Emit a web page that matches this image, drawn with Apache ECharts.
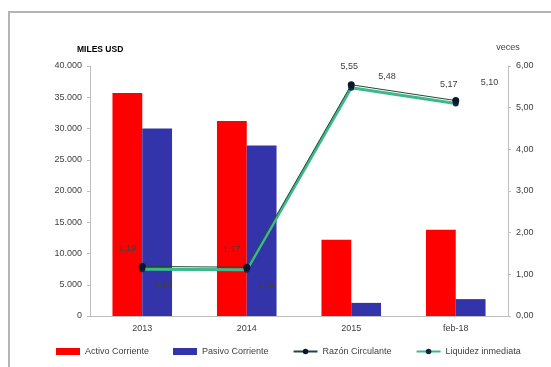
<!DOCTYPE html>
<html>
<head>
<meta charset="utf-8">
<script src="https://cdn.jsdelivr.net/npm/echarts@6/dist/echarts.min.js"></script>
<style>
html,body{margin:0;padding:0;background:#fff;}
#c{width:551px;height:367px;}
</style>
</head>
<body>
<div id="c"></div>
<script>
const categories = ['2013', '2014', '2015', 'feb-18'];
const activoCorriente = [35700, 31200, 12200, 13800];
const pasivoCorriente = [30000, 27300, 2100, 2700];
const razonCirculante = [1.19, 1.17, 5.55, 5.17];
const liquidezInmediata = [1.12, 1.11, 5.48, 5.10];
const leftTicks = { min: 0, max: 40000, interval: 5000 };
const rightTicks = { min: 0, max: 6, interval: 1 };

const razonOffsets = [[-15, -5], [-15, -5], [-2, -5], [-7, -3]];
const liquidezOffsets = [[4, 15], [4, 15], [19, -11], [17, -21]];

const fmtNum = v => v.toFixed(2).replace('.', ',');
const fmtThousands = v => v === 0 ? '0' : String(v).replace(/\B(?=(\d{3})+(?!\d))/g, '.');

const font = 'Liberation Sans, Arial, sans-serif';
const chart = echarts.init(document.getElementById('c'), null, { renderer: 'canvas' });
chart.setOption({
  animation: false,
  backgroundColor: '#fff',
  textStyle: { fontFamily: font },
  graphic: [{
    type: 'polyline',
    shape: { points: [[9, 367], [9, 12], [551, 12]] },
    style: { stroke: '#b4b4b4', lineWidth: 2, fill: null }
  }],
  legend: {
    bottom: 6,
    left: 51,
    itemWidth: 24,
    itemHeight: 7,
    itemGap: 24,
    textStyle: { fontSize: 9, color: '#404040', fontFamily: font },
    data: [
      { name: 'Activo Corriente', icon: 'rect' },
      { name: 'Pasivo Corriente', icon: 'rect' },
      { name: 'Razón Circulante' },
      { name: 'Liquidez inmediata' }
    ]
  },
  grid: { left: 90, right: 43, top: 66, bottom: 51 },
  xAxis: {
    type: 'category',
    data: categories,
    axisLine: { lineStyle: { color: '#bfbfbf' } },
    axisTick: { show: false },
    axisLabel: { fontSize: 9, color: '#404040', margin: 8 }
  },
  yAxis: [{
    type: 'value',
    min: leftTicks.min, max: leftTicks.max, interval: leftTicks.interval,
    name: 'MILES USD',
    nameLocation: 'end',
    nameGap: 12,
    nameTextStyle: { fontSize: 8.5, fontWeight: 'bold', color: '#000', align: 'left', padding: [0, 0, 0, -13] },
    axisLine: { show: true, lineStyle: { color: '#bfbfbf' } },
    axisTick: { show: true, length: 3, lineStyle: { color: '#bfbfbf' } },
    splitLine: { show: false },
    axisLabel: { fontSize: 9, color: '#404040', margin: 8, formatter: fmtThousands }
  }, {
    type: 'value',
    min: rightTicks.min, max: rightTicks.max, interval: rightTicks.interval,
    name: 'veces',
    nameLocation: 'end',
    nameGap: 14,
    nameTextStyle: { fontSize: 9, color: '#404040', align: 'center' },
    axisLine: { show: true, lineStyle: { color: '#bfbfbf' } },
    axisTick: { show: true, length: 3, lineStyle: { color: '#bfbfbf' } },
    splitLine: { show: false },
    axisLabel: { fontSize: 9, color: '#404040', margin: 8, formatter: v => fmtNum(v) }
  }],
  series: [{
    name: 'Activo Corriente',
    type: 'bar',
    data: activoCorriente,
    itemStyle: { color: '#ff0000' },
    barGap: '0%',
    barCategoryGap: '43%'
  }, {
    name: 'Pasivo Corriente',
    type: 'bar',
    data: pasivoCorriente,
    itemStyle: { color: '#3333aa' }
  }, {
    name: 'Liquidez inmediata',
    type: 'line',
    yAxisIndex: 1,
    data: liquidezInmediata.map((v, i) => ({
      value: v,
      label: { offset: liquidezOffsets[i] }
    })),
    lineStyle: { color: '#3cb88a', width: 3 },
    itemStyle: { color: '#0d2a3a' },
    symbol: 'circle',
    symbolSize: 6,
    z: 3,
    label: { show: true, position: 'right', fontSize: 9, color: '#404040', formatter: p => fmtNum(p.value) }
  }, {
    name: 'Razón Circulante',
    type: 'line',
    yAxisIndex: 1,
    data: razonCirculante.map((v, i) => ({
      value: v,
      label: { offset: razonOffsets[i] }
    })),
    lineStyle: { color: '#1f4a35', width: 1 },
    itemStyle: { color: '#0a1530' },
    symbol: 'circle',
    symbolSize: 7,
    z: 4,
    label: { show: true, position: 'top', fontSize: 9, color: '#404040', formatter: p => fmtNum(p.value) }
  }]
});
</script>
</body>
</html>
